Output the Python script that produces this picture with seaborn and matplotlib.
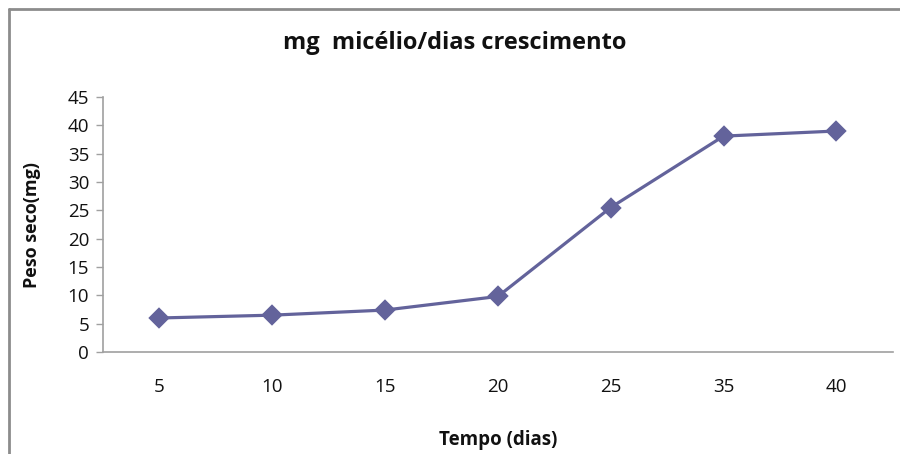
import matplotlib
matplotlib.use("Agg")
import matplotlib.pyplot as plt
from matplotlib.lines import Line2D
import seaborn as sns
import pandas as pd

# Dry mycelium weight per day of growth
dias = ["5", "10", "15", "20", "25", "35", "40"]
peso_seco = [6.0, 6.5, 7.4, 9.8, 25.5, 38.1, 39.0]
y_ticks = [0, 5, 10, 15, 20, 25, 30, 35, 40, 45]

titulo = "mg  micélio/dias crescimento"
rotulo_x = "Tempo (dias)"
rotulo_y = "Peso seco(mg)"

cor_linha = "#63639B"
cor_eixo = "#A0A0A0"

sns.set_theme(style="white")
plt.rcParams["font.family"] = ["Open Sans", "DejaVu Sans"]

df = pd.DataFrame({"dias": dias, "peso": peso_seco})

fig = plt.figure(figsize=(9.0, 4.54), dpi=100)
ax = fig.add_axes([0.1144, 0.2247, 0.8776, 0.5616])

sns.pointplot(data=df, x="dias", y="peso", order=dias, color=cor_linha,
              markers="D", linewidth=2.3, markersize=9, ax=ax)

ax.set_xlim(-0.5, len(dias) - 0.5)
ax.set_ylim(0, 45)
ax.set_yticks(y_ticks)
ax.set_yticklabels([str(v) for v in y_ticks])

for side in ("top", "right"):
    ax.spines[side].set_visible(False)
for side in ("left", "bottom"):
    ax.spines[side].set_color(cor_eixo)
    ax.spines[side].set_linewidth(1.2)

ax.tick_params(axis="y", length=5, width=1.0, color=cor_eixo, left=True,
               labelsize=13.5, pad=5, labelcolor="#111111")
ax.tick_params(axis="x", length=0, labelsize=13.5, pad=19, labelcolor="#111111")

ax.set_xlabel(rotulo_x, fontsize=13.5, fontweight="bold", labelpad=24,
              color="#111111")
ax.set_ylabel(rotulo_y, fontsize=13, fontweight="bold", labelpad=19,
              color="#111111")
ax.grid(False)

fig.text(0.505, 0.905, titulo, ha="center", va="center", fontsize=17,
         fontweight="bold", color="#111111")

# chart area border: left and top edges, running off the canvas
x0 = 8.5 / 900
y0 = 1 - 9 / 454
fig.add_artist(Line2D([x0, x0], [-0.05, y0], transform=fig.transFigure,
                      color="#8C8C8C", linewidth=2.0))
fig.add_artist(Line2D([x0, 1.05], [y0, y0], transform=fig.transFigure,
                      color="#8C8C8C", linewidth=2.0))

fig.savefig("out.png", dpi=100)
